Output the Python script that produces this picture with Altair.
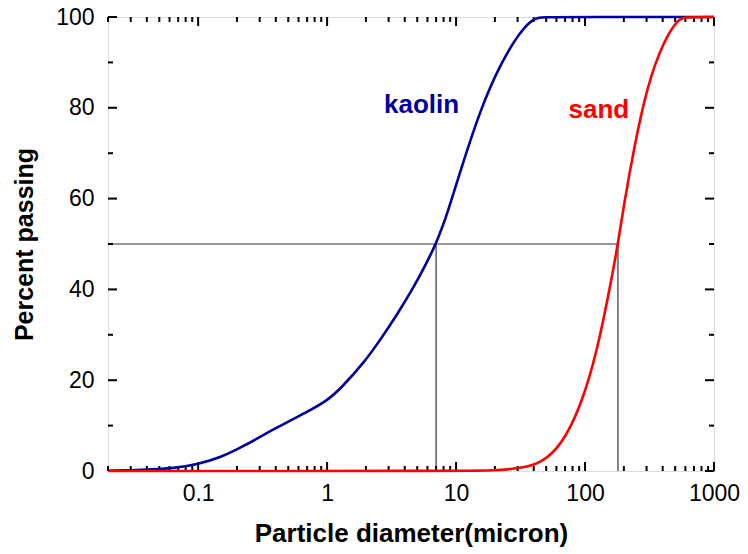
import altair as alt
import pandas as pd

# ---- data ----
kaolin_d = [0.02, 0.037, 0.066, 0.1, 0.15, 0.22, 0.39, 0.71, 1.0, 1.29, 1.95, 2.63, 3.55, 4.76, 5.7, 7.0, 8.64, 10.9, 15.6, 22.2, 31.8, 40.4, 45, 100, 1000]
kaolin_p = [0.05, 0.2, 0.6, 1.5, 3.0, 5.3, 9.3, 13.1, 15.5, 18.3, 24.0, 29.2, 34.8, 40.8, 45.0, 50.0, 57.0, 66.5, 80.0, 89.8, 97.1, 99.7, 100, 100, 100]

sand_d = [0.02, 10, 20, 31.8, 45.3, 64.9, 92.9, 125, 158, 180, 201, 241, 304, 410, 522, 580, 1000]
sand_p = [0, 0, 0.1, 0.6, 1.7, 5.4, 14.2, 26.7, 41.3, 50, 59.0, 71.5, 85.0, 94.9, 99.3, 100, 100]

d50_kaolin = 7.0
d50_sand = 180
d_min = 0.02

x_major = [0.1, 1, 10, 100, 1000]
x_minor = [0.02, 0.03, 0.04, 0.05, 0.06, 0.07, 0.08, 0.09,
           0.2, 0.3, 0.4, 0.5, 0.6, 0.7, 0.8, 0.9,
           2, 3, 4, 5, 6, 7, 8, 9,
           20, 30, 40, 50, 60, 70, 80, 90,
           200, 300, 400, 500, 600, 700, 800, 900]
y_major = [0, 20, 40, 60, 80, 100]
y_minor = [10, 30, 50, 70, 90]

labels = ["kaolin", "sand"]
label_d = [5.4, 128]
label_p = [80.6, 79.5]
colors = ["#00009c", "#ff0000"]

W, H = 606, 454
FONT = "Liberation Sans"

curves = pd.concat([
    pd.DataFrame({"d": kaolin_d, "p": kaolin_p, "m": "kaolin", "o": range(len(kaolin_d))}),
    pd.DataFrame({"d": sand_d, "p": sand_p, "m": "sand", "o": range(len(sand_d))}),
])

xscale = alt.Scale(type="log", domain=[0.02, 1000], nice=False)
yscale = alt.Scale(domain=[0, 100], nice=False)
cscale = alt.Scale(domain=labels, range=colors)

xaxis = alt.Axis(values=x_major, format="~g", ticks=False, domain=False, grid=False,
                 labelFont=FONT, labelFontSize=23, labelColor="black", labelPadding=11,
                 title="Particle diameter(micron)", titleFont=FONT, titleFontSize=26,
                 titleFontWeight="bold", titleColor="black", titlePadding=15, labelFlush=False)
yaxis = alt.Axis(values=y_major, ticks=False, domain=False, grid=False,
                 labelFont=FONT, labelFontSize=23, labelColor="black", labelPadding=14,
                 title="Percent passing", titleFont=FONT, titleFontSize=25,
                 titleFontWeight="bold", titleColor="black", titlePadding=18)

# reference lines at d50
hline = alt.Chart(pd.DataFrame({"a": [d_min], "b": [d50_sand], "y": [50]})).mark_rule(
    color="#333333", strokeWidth=1.2).encode(
    x=alt.X("a:Q", scale=xscale, axis=xaxis), x2="b:Q",
    y=alt.Y("y:Q", scale=yscale, axis=yaxis))
vlines = alt.Chart(pd.DataFrame({"x": [d50_kaolin, d50_sand], "a": [0, 0], "b": [50, 50]})).mark_rule(
    color="#333333", strokeWidth=1.2).encode(
    x=alt.X("x:Q", scale=xscale), y=alt.Y("a:Q", scale=yscale), y2="b:Q")

lines = alt.Chart(curves).mark_line(strokeWidth=2.6, interpolate="basis").encode(
    x=alt.X("d:Q", scale=xscale),
    y=alt.Y("p:Q", scale=yscale),
    color=alt.Color("m:N", scale=cscale, legend=None),
    detail="m:N",
    order="o:Q")

text = alt.Chart(pd.DataFrame({"d": label_d, "p": label_p, "m": labels})).mark_text(
    font=FONT, fontSize=26, fontWeight="bold").encode(
    x=alt.X("d:Q", scale=xscale), y=alt.Y("p:Q", scale=yscale),
    text="m:N", color=alt.Color("m:N", scale=cscale, legend=None))

tk = dict(color="black", strokeWidth=2)
xmaj = pd.DataFrame({"v": x_major})
xmin = pd.DataFrame({"v": x_minor})
ymaj = pd.DataFrame({"v": y_major})
ymin = pd.DataFrame({"v": y_minor})

ticks = [
    alt.Chart(xmaj).mark_rule(**tk).encode(x=alt.X("v:Q", scale=xscale), y=alt.value(H), y2=alt.value(H - 9)),
    alt.Chart(xmaj).mark_rule(**tk).encode(x=alt.X("v:Q", scale=xscale), y=alt.value(0), y2=alt.value(9)),
    alt.Chart(xmin).mark_rule(**tk).encode(x=alt.X("v:Q", scale=xscale), y=alt.value(H), y2=alt.value(H - 5)),
    alt.Chart(xmin).mark_rule(**tk).encode(x=alt.X("v:Q", scale=xscale), y=alt.value(0), y2=alt.value(5)),
    alt.Chart(ymaj).mark_rule(**tk).encode(y=alt.Y("v:Q", scale=yscale), x=alt.value(0), x2=alt.value(9)),
    alt.Chart(ymaj).mark_rule(**tk).encode(y=alt.Y("v:Q", scale=yscale), x=alt.value(W), x2=alt.value(W - 9)),
    alt.Chart(ymin).mark_rule(**tk).encode(y=alt.Y("v:Q", scale=yscale), x=alt.value(0), x2=alt.value(5)),
    alt.Chart(ymin).mark_rule(**tk).encode(y=alt.Y("v:Q", scale=yscale), x=alt.value(W), x2=alt.value(W - 5)),
]

chart = alt.layer(hline, vlines, *ticks, lines, text).properties(
    width=W, height=H,
    autosize=alt.AutoSizeParams(type="none"),
    padding={"left": 108, "top": 17, "right": 34, "bottom": 83},
).configure_view(stroke="black", strokeWidth=2.5).configure(background="white")

chart.save("out.html", embed_options={"renderer": "svg", "actions": False})
